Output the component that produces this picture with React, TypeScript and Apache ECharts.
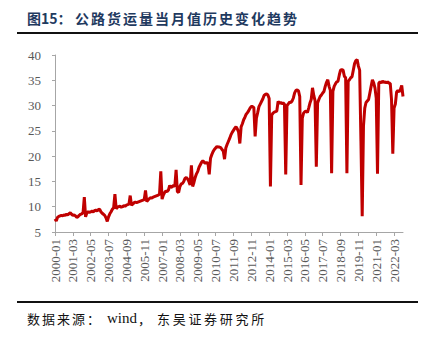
import React, { useEffect, useRef } from "react";
import * as echarts from "echarts";

// Monthly highway freight volume (亿吨), 2000-01 .. 2022-10
const v2000 = [7.6, 7.2, 7.9, 8.1, 8.2, 8.3, 8.2, 8.4, 8.3, 8.5, 8.4, 8.6];
const v2001 = [8.8, 8.5, 8.3, 8.4, 8.2, 7.9, 8.0, 8.3, 8.5, 8.6, 8.8, 11.9];
const v2002 = [8.0, 8.8, 9.0, 8.9, 9.0, 9.1, 9.0, 9.2, 9.3, 9.2, 9.4, 9.5];
const v2003 = [9.0, 8.7, 8.5, 8.3, 7.8, 7.1, 8.0, 8.6, 9.0, 9.5, 9.8, 12.5];
const v2004 = [9.6, 9.9, 10.0, 10.1, 9.9, 10.0, 10.2, 10.1, 10.3, 10.4, 10.5, 12.2];
const v2005 = [10.3, 10.5, 10.8, 10.9, 10.8, 10.9, 11.0, 11.1, 11.2, 11.3, 11.4, 13.2];
const v2006 = [11.0, 11.3, 11.6, 11.8, 11.7, 11.9, 12.0, 12.1, 12.2, 12.3, 12.5, 17.0];
const v2007 = [11.5, 12.3, 12.8, 13.1, 13.0, 13.3, 14.2, 13.8, 14.0, 14.2, 14.0, 17.3];
const v2008 = [13.0, 12.8, 14.0, 14.5, 14.6, 15.0, 15.6, 15.8, 15.5, 15.0, 14.3, 18.2];
const v2009 = [14.0, 14.8, 15.8, 16.5, 17.0, 17.8, 18.3, 18.8, 19.1, 18.8, 18.6, 18.7];
const v2010 = [18.6, 16.4, 19.6, 20.3, 20.9, 21.3, 21.6, 21.9, 21.8, 21.8, 21.7, 21.3];
const v2011 = [21.0, 19.4, 21.6, 22.3, 22.9, 23.5, 24.2, 24.7, 25.1, 25.5, 25.8, 25.4];
const v2012 = [24.8, 22.5, 25.8, 26.4, 27.2, 27.7, 28.3, 28.6, 29.0, 29.5, 29.8, 29.8];
const v2013 = [29.6, 23.9, 27.5, 28.6, 29.8, 30.3, 30.8, 31.3, 32.0, 32.2, 32.3, 32.1];
const v2014 = [31.4, 14.0, 28.1, 28.5, 28.7, 28.8, 28.9, 30.8, 30.5, 30.6, 30.4, 30.5];
const v2015 = [30.3, 16.4, 30.0, 30.3, 30.7, 30.6, 30.9, 31.5, 32.5, 33.0, 33.1, 32.9];
const v2016 = [31.8, 14.3, 27.5, 28.5, 28.8, 28.9, 28.6, 29.5, 30.5, 31.2, 33.5, 32.0];
const v2017 = [31.0, 17.9, 30.5, 31.2, 31.8, 32.1, 32.5, 32.8, 33.8, 34.6, 35.1, 33.8];
const v2018 = [33.0, 16.6, 32.8, 33.8, 34.3, 34.7, 34.8, 36.0, 37.0, 37.1, 37.0, 35.8];
const v2019 = [35.5, 16.6, 34.8, 35.1, 35.5, 35.7, 37.0, 38.3, 38.9, 39.1, 37.8, 37.0];
const v2020 = [23.0, 8.1, 26.0, 29.5, 30.6, 30.9, 31.2, 32.5, 33.8, 35.1, 34.5, 33.5];
const v2021 = [31.5, 16.5, 34.4, 34.7, 34.5, 34.8, 34.6, 34.7, 34.5, 34.7, 34.4, 34.4];
const v2022 = [31.2, 20.5, 29.5, 30.3, 32.7, 33.0, 32.7, 33.2, 34.0, 31.8];

const values = [
  ...v2000, ...v2001, ...v2002, ...v2003, ...v2004, ...v2005, ...v2006, ...v2007,
  ...v2008, ...v2009, ...v2010, ...v2011, ...v2012, ...v2013, ...v2014, ...v2015,
  ...v2016, ...v2017, ...v2018, ...v2019, ...v2020, ...v2021, ...v2022,
];

const startYear = 2000;
const categories = values.map(
  (_, i) => `${startYear + Math.floor(i / 12)}-${String((i % 12) + 1).padStart(2, "0")}`
);

const yMin = 5;
const yMax = 40;
const yStep = 5;
const labelEvery = 14;

const titleHead = "图15：";
const titleBody = "公路货运量当月值历史变化趋势";
const sourceHead = "数据来源：";
const sourceWord = "wind";
const sourceComma = "，";
const sourceTail = "东吴证券研究所";

export default function App() {
  const ref = useRef<HTMLDivElement>(null);
  useEffect(() => {
    if (!ref.current) return;
    const chart = echarts.init(ref.current, undefined, { renderer: "svg" });
    const titleColor = "#1F3A5F";
    const cjk = '"Noto Sans CJK SC", sans-serif';
    const serif = '"Liberation Serif", "Times New Roman", serif';
    const graphics: any[] = [];
    graphics.push({
      type: "text",
      x: 27,
      y: 18,
      style: { text: titleHead, font: `bold 14px ${cjk}`, fill: titleColor, verticalAlign: "middle" },
    });
    titleBody.split("").forEach((ch, k) => {
      graphics.push({
        type: "text",
        x: 75 + k * 16,
        y: 18,
        style: { text: ch, font: `bold 14px ${cjk}`, fill: titleColor, verticalAlign: "middle" },
      });
    });
    graphics.push({
      type: "line",
      shape: { x1: 17, y1: 33, x2: 418, y2: 33 },
      style: { stroke: "#111", lineWidth: 2 },
    });
    graphics.push({
      type: "line",
      shape: { x1: 17, y1: 302, x2: 418, y2: 302 },
      style: { stroke: "#111", lineWidth: 2 },
    });
    sourceHead.split("").forEach((ch, k) => {
      graphics.push({
        type: "text",
        x: 27 + k * 15,
        y: 318,
        style: { text: ch, font: `13px ${cjk}`, fill: "#111", verticalAlign: "middle" },
      });
    });
    graphics.push({
      type: "text",
      x: 107,
      y: 318,
      style: { text: sourceWord, font: `15px ${serif}`, fill: "#111", verticalAlign: "middle" },
    });
    graphics.push({
      type: "text",
      x: 138,
      y: 318,
      style: { text: sourceComma, font: `13px ${cjk}`, fill: "#111", verticalAlign: "middle" },
    });
    sourceTail.split("").forEach((ch, k) => {
      graphics.push({
        type: "text",
        x: 157 + k * 15.7,
        y: 318,
        style: { text: ch, font: `13px ${cjk}`, fill: "#111", verticalAlign: "middle" },
      });
    });

    chart.setOption({
      animation: false,
      backgroundColor: "#ffffff",
      grid: { left: 55, right: 28, top: 55, bottom: 107, containLabel: false },
      xAxis: {
        type: "category",
        data: categories,
        boundaryGap: false,
        axisLine: { lineStyle: { color: "#A6A6A6", width: 1 } },
        axisTick: {
          show: true,
          interval: labelEvery - 1,
          length: 4,
          lineStyle: { color: "#A6A6A6" },
        },
        axisLabel: {
          interval: labelEvery - 1,
          rotate: 90,
          margin: 7,
          color: "#595959",
          fontFamily: "Liberation Serif",
          fontSize: 13,
        },
        splitLine: { show: false },
      },
      yAxis: {
        type: "value",
        min: yMin,
        max: yMax,
        interval: yStep,
        axisLine: { show: true, lineStyle: { color: "#A6A6A6", width: 1 } },
        axisTick: { show: true, length: 3, lineStyle: { color: "#A6A6A6" } },
        axisLabel: {
          color: "#595959",
          fontFamily: "Liberation Serif",
          fontSize: 13,
          margin: 14,
        },
        splitLine: { show: false },
      },
      series: [
        {
          type: "line",
          data: values,
          symbol: "none",
          smooth: false,
          lineStyle: { color: "#C00000", width: 3 },
          itemStyle: { color: "#C00000" },
        },
      ],
      graphic: graphics,
    });
    return () => chart.dispose();
  }, []);
  return (
    <div
      ref={ref}
      style={{ position: "fixed", left: 0, top: 0, width: 431, height: 339, background: "#fff" }}
    />
  );
}
